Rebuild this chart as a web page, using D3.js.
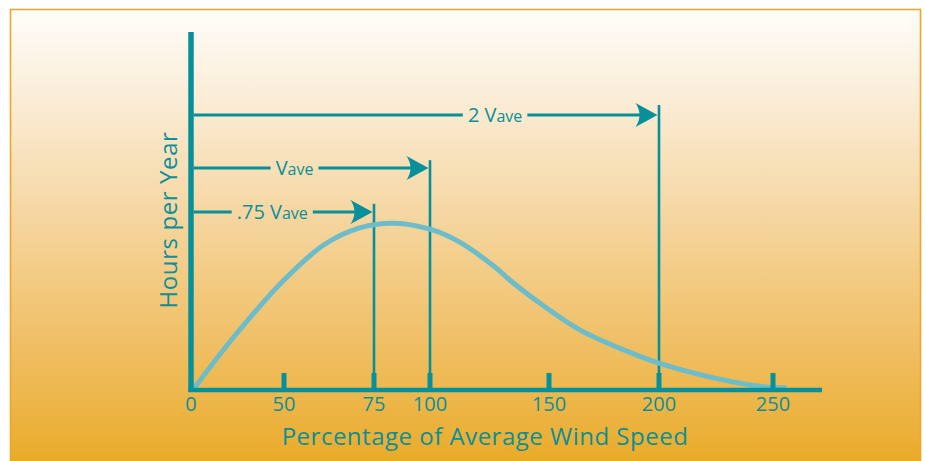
<!DOCTYPE html>
<html lang="en">
  <head>
    <meta charset="utf-8" />
    <title>Hours per Year vs Percentage of Average Wind Speed</title>
    <script src="https://d3js.org/d3.v7.min.js"></script>
    <style type="text/css">
      body { margin: 0; background: #fff; }
      text { font-family: "Open Sans", sans-serif; fill: #0b8f98; }
    </style>
  </head>
  <body>
    <script type="text/javascript">
      // x ticks (percent of average wind speed)
      const tickValues = [0, 50, 75, 100, 150, 200, 250];

      // distribution curve (percent, relative hours)
      const curveX = [1, 23, 50, 61, 71, 84, 101, 113, 127, 135, 149, 164, 182, 200, 224, 246, 256];
      const curveY = [0, 14.8, 30.7, 40.5, 45.3, 46.6, 44.7, 41.1, 34.5, 29.9, 22.9, 16.8, 11.7, 7.5, 3.4, 0.9, 0.6];

      // marker lines and arrows
      const markerNames = [".75 Vave", "Vave", "2 Vave"];
      const markerPrefix = [".75 ", "", "2 "];
      const markerSpeed = [75, 100, 200];
      const markerTop = [52, 64.2, 79.6];
      const arrowLevel = [49.7, 62, 76.8];

      const w = 925;
      const h = 461;

      // axis is drawn unevenly in the original, so use a piecewise scale
      const x = d3
        .scaleLinear()
        .domain([0, 50, 75, 100, 150, 200, 250, 275])
        .range([191, 284, 374, 430, 549, 659, 773, 830]);

      const y = d3.scaleLinear().domain([0, 100]).range([390, 32]);

      const svg = d3.select("body").append("svg").attr("width", w).attr("height", h);

      //Background
      const grad = svg
        .append("defs")
        .append("linearGradient")
        .attr("id", "bg")
        .attr("x1", 0).attr("y1", 0).attr("x2", 0).attr("y2", 1);
      [
        [0, "#fffdfa"],
        [0.2, "#faecd4"],
        [0.45, "#f5d59e"],
        [0.7, "#f0c067"],
        [0.88, "#ecb23e"],
        [1, "#e8a71d"],
      ].forEach(function (s) {
        grad.append("stop").attr("offset", s[0]).attr("stop-color", s[1]);
      });

      svg
        .append("rect")
        .attr("x", 10.5)
        .attr("y", 9.5)
        .attr("width", 910)
        .attr("height", 470)
        .attr("fill", "url(#bg)")
        .attr("stroke", "#efa62a")
        .attr("stroke-width", 1.6);

      const teal = "#07909a";

      //Curve
      const curveData = curveX.map(function (d, i) {
        return { x: d, y: curveY[i] };
      });
      const line = d3
        .line()
        .x(function (d) { return x(d.x); })
        .y(function (d) { return y(d.y); })
        .curve(d3.curveCatmullRom.alpha(0.5));

      //Marker verticals
      svg
        .selectAll("line.marker")
        .data(markerSpeed)
        .enter()
        .append("line")
        .attr("class", "marker")
        .attr("x1", function (d) { return x(d); })
        .attr("x2", function (d) { return x(d); })
        .attr("y1", function (d, i) { return y(markerTop[i]); })
        .attr("y2", y(0))
        .attr("stroke", teal)
        .attr("stroke-width", 2.6);

      svg
        .append("path")
        .datum(curveData)
        .attr("d", line)
        .attr("fill", "none")
        .attr("stroke", "#6cbdc9")
        .attr("stroke-width", 5);

      //Axes
      svg
        .append("line")
        .attr("x1", x(0))
        .attr("x2", x(0))
        .attr("y1", y(100))
        .attr("y2", y(0) + 2)
        .attr("stroke", teal)
        .attr("stroke-width", 5.5);

      svg
        .append("line")
        .attr("x1", x(0) - 2.5)
        .attr("x2", x(271.5))
        .attr("y1", y(0))
        .attr("y2", y(0))
        .attr("stroke", teal)
        .attr("stroke-width", 4.5);

      const ticks = tickValues.filter(function (d) { return d > 0; });
      svg
        .selectAll("rect.tick")
        .data(ticks)
        .enter()
        .append("rect")
        .attr("class", "tick")
        .attr("x", function (d) { return x(d) - 2.5; })
        .attr("y", y(0) - 17)
        .attr("width", 5)
        .attr("height", 17)
        .attr("fill", teal);

      svg
        .selectAll("text.tick")
        .data(tickValues)
        .enter()
        .append("text")
        .attr("class", "tick")
        .attr("x", function (d) { return x(d); })
        .attr("y", 411)
        .attr("text-anchor", "middle")
        .style("font-size", "20px")
        .text(function (d) { return d; });

      svg
        .append("text")
        .attr("x", 485)
        .attr("y", 445)
        .attr("text-anchor", "middle")
        .style("font-size", "24px")
        .style("letter-spacing", "0.5px")
        .text("Percentage of Average Wind Speed");

      svg
        .append("text")
        .attr("transform", "translate(177,220) rotate(-90)")
        .attr("text-anchor", "middle")
        .style("font-size", "24px")
        .style("letter-spacing", "0.6px")
        .text("Hours per Year");

      //Arrows
      const labelFrac = [0.44, 0.43, 0.65];
      markerNames.forEach(function (name, i) {
        const x0 = x(0) + 2.5;
        const tip = x(markerSpeed[i]) - 1.5;
        const yy = y(arrowLevel[i]);
        const cx = x0 + (tip - x0) * labelFrac[i];

        const t = svg
          .append("text")
          .attr("x", cx)
          .attr("y", yy + 7)
          .attr("text-anchor", "middle");
        t.append("tspan").style("font-size", "20px").text(markerPrefix[i] + "V");
        t.append("tspan").style("font-size", "16px").text("ave");
        const bb = t.node().getBBox();

        svg
          .append("line")
          .attr("x1", x0)
          .attr("x2", bb.x - 5)
          .attr("y1", yy)
          .attr("y2", yy)
          .attr("stroke", teal)
          .attr("stroke-width", 3);
        svg
          .append("line")
          .attr("x1", bb.x + bb.width + 5)
          .attr("x2", tip - 16)
          .attr("y1", yy)
          .attr("y2", yy)
          .attr("stroke", teal)
          .attr("stroke-width", 3);
        svg
          .append("path")
          .attr(
            "d",
            "M" + tip + "," + yy +
              " L" + (tip - 22) + "," + (yy - 12) +
              " Q" + (tip - 14) + "," + yy + " " + (tip - 22) + "," + (yy + 12) +
              " Z"
          )
          .attr("fill", teal);
      });
    </script>
  </body>
</html>
